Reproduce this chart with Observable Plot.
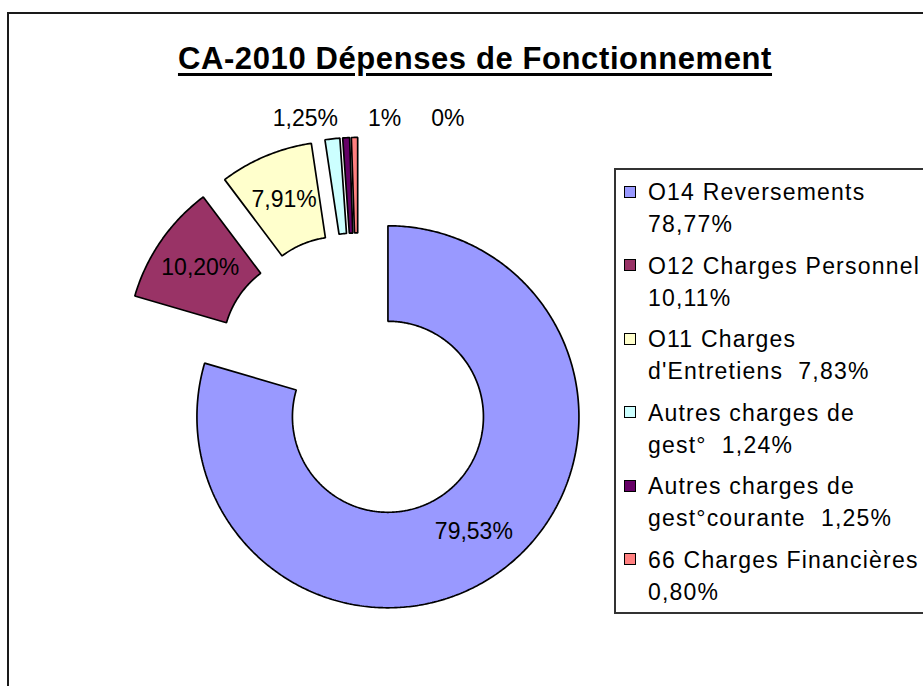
<!DOCTYPE html>
<html><head><meta charset="utf-8">
<script src="https://cdn.jsdelivr.net/npm/d3@7"></script>
<script src="https://cdn.jsdelivr.net/npm/@observablehq/plot@0.6"></script>
<style>
html,body{margin:0;padding:0;background:#fff;overflow:hidden;}
#wrap{position:relative;width:923px;height:686px;overflow:hidden;font-family:"Liberation Sans",Arial,sans-serif;color:#000;}
#frame{position:absolute;left:7px;top:12px;width:1000px;height:1000px;border-left:2px solid #1a1a1a;border-top:2px solid #1a1a1a;}
#title{position:absolute;left:0;top:43px;width:950px;text-align:center;font-weight:bold;font-size:31px;line-height:31px;letter-spacing:0.6px;text-decoration:underline;text-decoration-thickness:3px;text-underline-offset:4px;white-space:nowrap;}
#chart{position:absolute;left:0;top:0;}
#legend{position:absolute;left:614px;top:168px;width:400px;height:446px;border:2px solid #333;box-sizing:border-box;padding-top:6px;background:#fff;}
.item{position:relative;padding-left:32px;font-size:23px;line-height:32px;letter-spacing:1.2px;white-space:pre;margin-bottom:9.5px;}
.sw{position:absolute;left:8px;top:9.5px;width:10px;height:10px;border:1.5px solid #000;}
</style></head>
<body>
<div id="wrap">
  <div id="frame"></div>
  <div id="chart"></div>
  <div id="title">CA-2010 Dépenses de Fonctionnement</div>
  <div id="legend"></div>
</div>
<script>
// ---- data ----
const categories = ["O14 Reversements", "O12 Charges Personnel", "O11 Charges d'Entretiens", "Autres charges de gest°", "Autres charges de gest°courante", "66 Charges Financières"];
const values = [79.53, 10.20, 7.91, 1.25, 0.58, 0.53];
const sliceLabels = ["79,53%", "10,20%", "7,91%", "1,25%", "1%", "0%"];
const legendLabels = ["O14 Reversements\n78,77%", "O12 Charges Personnel\n10,11%", "O11 Charges\nd'Entretiens  7,83%", "Autres charges de\ngest°  1,24%", "Autres charges de\ngest°courante  1,25%", "66 Charges Financières\n0,80%"];
const colors = ["#9999FF", "#993366", "#FFFFCC", "#CCFFFF", "#660066", "#FF8080"];

// ---- geometry ----
const W = 923, H = 686, R = 191, CX = 358, CY = 377;
const rIn = 0.5, explode = 0.257;
const total = d3.sum(values);
let acc = 0;
const slices = values.map((v, i) => {
  const a0 = acc / total * 2 * Math.PI; acc += v;
  const a1 = acc / total * 2 * Math.PI;
  const m = (a0 + a1) / 2;
  return {i, v, name: categories[i], a0, a1, m, ox: explode * Math.sin(m), oy: explode * Math.cos(m)};
});
const pts = [];
for (const s of slices) {
  const n = Math.max(2, Math.ceil((s.a1 - s.a0) / 0.01));
  for (let k = 0; k <= n; k++) { const a = s.a0 + (s.a1 - s.a0) * k / n; pts.push({name: s.name, x: s.ox + Math.sin(a), y: s.oy + Math.cos(a)}); }
  for (let k = n; k >= 0; k--) { const a = s.a0 + (s.a1 - s.a0) * k / n; pts.push({name: s.name, x: s.ox + rIn * Math.sin(a), y: s.oy + rIn * Math.cos(a)}); }
}
// labels
const ctx = document.createElement("canvas").getContext("2d");
ctx.font = "23px 'Liberation Sans', Arial";
const tw = t => ctx.measureText(t).width / R;
const labels = [];
let prev = null;
for (const s of slices) {
  const t = sliceLabels[s.i];
  if (s.v >= 2) {
    const rm = (1 + rIn) / 2;
    labels.push({text: t, x: s.ox + rm * Math.sin(s.m), y: s.oy + rm * Math.cos(s.m)});
  } else {
    let x, y;
    if (!prev) {
      x = s.ox + Math.sin(s.m) - 27 / R;
      y = s.oy + Math.cos(s.m) + 20 / R;
    } else {
      x = prev.x + tw(prev.text) / 2 + 30 / R + tw(t) / 2;
      y = prev.y;
    }
    prev = {text: t, x, y};
    labels.push(prev);
  }
}

const chart = Plot.plot({
  width: W, height: H, margin: 0,
  x: {domain: [-CX / R, (W - CX) / R], axis: null},
  y: {domain: [-(H - CY) / R, CY / R], axis: null},
  color: {domain: categories, range: colors},
  style: {background: "transparent", fontFamily: "'Liberation Sans', Arial, sans-serif"},
  marks: [
    Plot.line(pts, {x: "x", y: "y", z: "name", fill: "name", stroke: "#000", strokeWidth: 1.7, curve: "linear-closed", strokeLinejoin: "miter"}),
    Plot.text(labels, {x: "x", y: "y", text: "text", fontSize: 23, fill: "#000"})
  ]
});
document.getElementById("chart").appendChild(chart);

// legend
const lg = document.getElementById("legend");
legendLabels.forEach((t, i) => {
  const it = document.createElement("div");
  it.className = "item";
  const sw = document.createElement("div");
  sw.className = "sw";
  sw.style.background = colors[i];
  it.appendChild(sw);
  it.appendChild(document.createTextNode(t));
  lg.appendChild(it);
});
</script>
</body></html>
